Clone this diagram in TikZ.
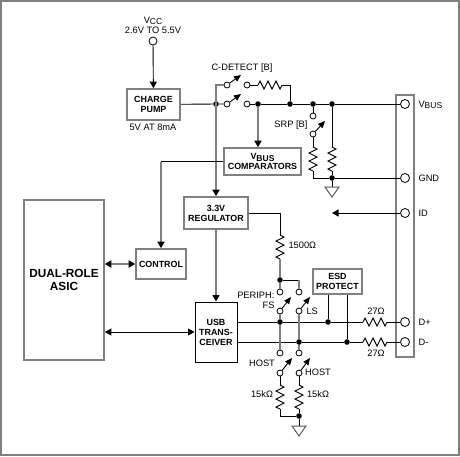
\documentclass[tikz,border=0pt]{standalone}
\usepackage{fontspec}
\setmainfont{Liberation Sans}
\usetikzlibrary{arrows.meta,decorations.pathmorphing}
\newcommand{\vlabel}[1]{V\raisebox{-1.5pt}{\fontsize{8.5}{9}\selectfont #1}}
\tikzset{
  every node/.style={font=\fontsize{9.3}{10}\selectfont},
  wire/.style={line width=0.9pt,black},
  thickwire/.style={line width=1.6pt,black!50},
  tip/.style={-{Triangle[length=6.5pt,width=7pt,color=black]}},
  twotip/.style={{Triangle[length=6.5pt,width=7pt,color=black]}-{Triangle[length=6.5pt,width=7pt,color=black]}},
  box/.style={draw=black!50,line width=1.6pt,inner sep=0pt,align=center,
    font=\fontsize{8.9}{10}\selectfont\bfseries},
  dot/.style={circle,fill=black,inner sep=0pt,minimum size=5.6pt},
  contact/.style={circle,draw=black,line width=0.8pt,fill=white,inner sep=0pt,minimum size=6pt},
  port/.style={circle,draw=black,line width=0.8pt,fill=white,inner sep=0pt,minimum size=9pt},
  blade/.style={line width=0.9pt,-{Triangle[length=7pt,width=6pt]}},
  res/.style={line width=0.9pt,decorate,decoration={zigzag,segment length=8pt,amplitude=4pt}},
  ground/.style={draw=black!65,line width=1pt,fill=white}
}
\begin{document}
\begin{tikzpicture}[x=1pt,y=-1pt]
    \useasboundingbox (0,0) rectangle (460,456);

    % outer frame
    \draw[black!50,line width=2pt] (1,1) rectangle (459,455);

    % blocks
    \node[box,minimum width=53pt,minimum height=31pt] (pump) at (153.5,104.5) {CHARGE\\PUMP};
    \node[box,minimum width=77pt,minimum height=27pt] (comp) at (262.5,161.5) {\vlabel{BUS}\\COMPARATORS};
    \node[box,minimum width=64pt,minimum height=32pt] (reg) at (216,213) {3.3V\\REGULATOR};
    \node[box,minimum width=50pt,minimum height=30pt] (ctrl) at (161,264) {CONTROL};
    \node[box,draw=black,line width=1pt,minimum width=42pt,minimum height=60pt] (usb) at (216,332) {USB\\TRANS-\\CEIVER};
    \node[box,minimum width=49pt,minimum height=25pt] (esd) at (337.5,281.5) {ESD\\PROTECT};
    \node[box,minimum width=80pt,minimum height=160pt,font=\fontsize{11.8}{12.5}\selectfont\bfseries] (asic) at (64,280) {DUAL-ROLE\\ASIC};

    % connector strip
    \node[draw=black!50,line width=1.6pt,inner sep=0pt,minimum width=18pt,minimum height=262pt] (strip) at (405,226) {};

    % ports
    \node[port,minimum size=8pt] (vcc) at (153,41) {};
    \node[port] (vbus) at (405,104) {};
    \node[port] (gnd) at (405,178) {};
    \node[port] (id) at (405,213) {};
    \node[port] (dplus) at (405,322) {};
    \node[port] (dminus) at (405,342) {};

    % junctions
    \node[dot] (jpump) at (216,104) {};
    \node[dot] (jcomp) at (258,104) {};
    \node[dot] (jdet) at (290,104) {};
    \node[dot] (jsrp) at (313,104) {};
    \node[dot] (jrb) at (332,104) {};
    \node[dot] (jgnd) at (332,178) {};
    \node[dot] (jperiph) at (280,280) {};
    \node[dot] (jfs) at (280,322) {};
    \node[dot] (jesda) at (328,322) {};
    \node[dot] (jls) at (299,342) {};
    \node[dot] (jesdb) at (347,342) {};
    \node[dot] (jhost) at (299,416) {};

    % switch contacts
    \node[contact] (cdeta) at (227,85) {};
    \node[contact] (cdetb) at (247,85) {};
    \node[contact] (cpmpa) at (227,104) {};
    \node[contact] (cpmpb) at (247,104) {};
    \node[contact] (csrpa) at (313,116) {};
    \node[contact] (csrpb) at (313,134) {};
    \node[contact] (cfsa) at (280,292) {};
    \node[contact] (cfsb) at (280,311) {};
    \node[contact] (clsa) at (299,292) {};
    \node[contact] (clsb) at (299,311) {};
    \node[contact] (chfa) at (280,353) {};
    \node[contact] (chfb) at (280,373) {};
    \node[contact] (chla) at (299,353) {};
    \node[contact] (chlb) at (299,373) {};

    % free ends of the blades, bends and resistor ends
    \coordinate (bdet) at (241,75);
    \coordinate (bpmp) at (241,94);
    \coordinate (bsrp) at (325,121);
    \coordinate (bfs) at (291,297);
    \coordinate (bls) at (310,297);
    \coordinate (bhf) at (292,358);
    \coordinate (bhl) at (310,358);
    \coordinate (bendc) at (161,161.5);
    \coordinate (rdeta) at (258,85);
    \coordinate (rdetb) at (282,85);
    \coordinate (bendd) at (290,85);
    \coordinate (rsa) at (313,147);
    \coordinate (rsb) at (313,171);
    \coordinate (bends) at (313,178);
    \coordinate (rba) at (332,147);
    \coordinate (rbb) at (332,171);
    \coordinate (bendr) at (280,213);
    \coordinate (rpa) at (280,235);
    \coordinate (rpb) at (280,259);
    \coordinate (bendl) at (299,280);
    \coordinate (rfa) at (280,385);
    \coordinate (rfb) at (280,409);
    \coordinate (bendh) at (280,416);
    \coordinate (rha) at (299,385);
    \coordinate (rhb) at (299,409);
    \coordinate (rda) at (363,322);
    \coordinate (rdb) at (387,322);
    \coordinate (rma) at (363,342);
    \coordinate (rmb) at (387,342);
    \coordinate (idend) at (332,213);
    \coordinate (ga) at (332,187);
    \coordinate (gb) at (299,426);

    % supply and bus
    \draw[wire,tip] (vcc) -- (pump);
    \draw[wire] (pump) -- (jpump) -- (cpmpa);
    \draw[wire] (cpmpb) -- (jcomp) -- (jdet) -- (jsrp) -- (jrb) -- (vbus);
    \draw[thickwire,tip] (cdeta) -| (reg);
    \draw[thickwire,tip] (jcomp) -- (comp.north -| jcomp);
    \draw[wire] (comp) -- (bendc);
    \draw[thickwire,tip] (bendc) -- (ctrl);

    % C-DETECT branch
    \draw[wire] (cdetb) -- (rdeta);
    \draw[res] (rdeta) -- (rdetb);
    \draw[wire] (rdetb) -- (bendd) -- (jdet);

    % SRP branch and ground
    \draw[wire] (jsrp) -- (csrpa);
    \draw[wire] (csrpb) -- (rsa);
    \draw[res] (rsa) -- (rsb);
    \draw[wire] (rsb) -- (bends) -- (jgnd);
    \draw[wire] (jrb) -- (rba);
    \draw[res] (rba) -- (rbb);
    \draw[wire] (rbb) -- (jgnd) -- (gnd);
    \draw[wire] (jgnd) -- (ga);
    \draw[ground] (ga) -- ++(-7,0) -- ++(7,10) -- ++(7,-10) -- cycle;
    \draw[wire,tip] (id) -- (idend);

    % ASIC links
    \draw[thickwire,twotip] (asic.east |- ctrl) -- (ctrl);
    \draw[wire,twotip] (asic.east |- usb) -- (usb);
    \draw[thickwire,tip] (reg) -- (usb);

    % pull-up
    \draw[wire] (reg) -- (bendr);
    \draw[wire] (bendr) -- (rpa);
    \draw[res] (rpa) -- (rpb);
    \draw[thickwire] (rpb) -- (jperiph);
    \draw[thickwire] (jperiph) -- (cfsa);
    \draw[wire] (jperiph) -- (bendl);
    \draw[thickwire] (bendl) -- (clsa);

    % data lines
    \draw[wire] (usb.east |- jfs) -- (jfs) -- (jesda) -- (rda);
    \draw[res] (rda) -- (rdb);
    \draw[wire] (rdb) -- (dplus);
    \draw[wire] (usb.east |- jls) -- (jls) -- (jesdb) -- (rma);
    \draw[res] (rma) -- (rmb);
    \draw[wire] (rmb) -- (dminus);
    \draw[wire] (esd.south -| jesda) -- (jesda);
    \draw[wire] (esd.south -| jesdb) -- (jesdb);
    \draw[thickwire] (cfsb) -- (jfs) -- (chfa);
    \draw[thickwire] (clsb) -- (jls) -- (chla);

    % host pull-downs
    \draw[wire] (chfb) -- (rfa);
    \draw[res] (rfa) -- (rfb);
    \draw[wire] (rfb) -- (bendh) -- (jhost);
    \draw[wire] (chlb) -- (rha);
    \draw[res] (rha) -- (rhb);
    \draw[wire] (rhb) -- (jhost) -- (gb);
    \draw[ground] (gb) -- ++(-7,0) -- ++(7,10) -- ++(7,-10) -- cycle;

    % switch blades
    \draw[blade] (cdeta) -- (bdet);
    \draw[blade] (cpmpa) -- (bpmp);
    \draw[blade] (csrpb) -- (bsrp);
    \draw[blade] (cfsb) -- (bfs);
    \draw[blade] (clsb) -- (bls);
    \draw[blade] (chfb) -- (bhf);
    \draw[blade] (chlb) -- (bhl);

    % labels
    \node (tvcc) at (153,21) {\vlabel{CC}};
    \node (trange) at (153,30) {2.6V TO 5.5V};
    \node (tpump) at (153,127) {5V AT 8mA};
    \node (tdet) at (242,68) {C-DETECT [B]};
    \node[anchor=east] (tsrp) at (311,125) {SRP [B]};
    \node[anchor=west] (tvbus) at (415,105) {\vlabel{BUS}};
    \node[anchor=west] (tgnd) at (415,178) {GND};
    \node[anchor=west] (tid) at (415,213) {ID};
    \node[anchor=west] (tdp) at (415,322) {D+};
    \node[anchor=west] (tdm) at (415,342) {D-};
    \node[anchor=west] (tpul) at (285,245) {1500Ω};
    \node[anchor=east] (tper) at (278,295) {PERIPH:};
    \node[anchor=east] (tfs) at (278,305) {FS};
    \node[anchor=west] (tls) at (303,311) {LS};
    \node (tra) at (376,311) {27Ω};
    \node (trb) at (376,353) {27Ω};
    \node (thf) at (262,363) {HOST};
    \node (thl) at (318,372) {HOST};
    \node (trf) at (262,394) {15kΩ};
    \node (trh) at (318,394) {15kΩ};

\end{tikzpicture}
\end{document}
